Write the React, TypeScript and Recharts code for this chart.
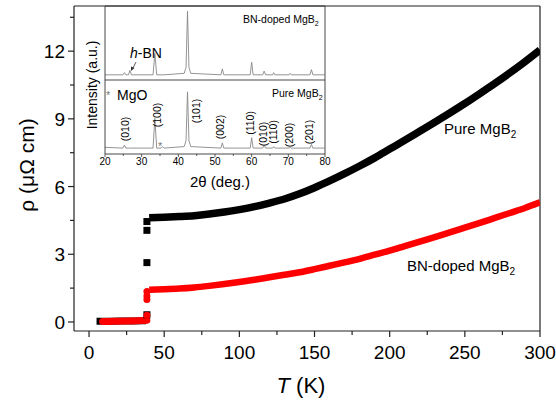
import React from "react";
import { ComposedChart, Line, XAxis, YAxis, ReferenceLine } from "recharts";

// resistivity vs temperature (main panel)
const tempNormal = [40, 50, 60, 70, 80, 90, 100, 110, 120, 130, 140, 150, 160, 170, 180, 190, 200, 210, 220, 230, 240, 250, 260, 270, 280, 290, 300];
const rhoPure = [4.62, 4.64, 4.67, 4.71, 4.78, 4.87, 4.98, 5.11, 5.27, 5.45, 5.68, 5.95, 6.25, 6.57, 6.91, 7.27, 7.66, 8.05, 8.45, 8.85, 9.26, 9.68, 10.12, 10.57, 11.04, 11.53, 12.05];
const rhoBN = [1.43, 1.45, 1.48, 1.53, 1.6, 1.68, 1.77, 1.87, 1.98, 2.09, 2.2, 2.34, 2.49, 2.64, 2.8, 2.98, 3.16, 3.36, 3.56, 3.76, 3.97, 4.18, 4.39, 4.61, 4.83, 5.05, 5.3];

const tempLowPure = [5, 10, 15, 20, 25, 30, 35, 38];
const rhoLowPure = [0.03, 0.03, 0.03, 0.04, 0.04, 0.04, 0.05, 0.05];
const tempLowBN = [9, 12, 16, 20, 24, 28, 32, 36, 38.5];
const rhoLowBN = [0.02, 0.02, 0.03, 0.03, 0.04, 0.04, 0.05, 0.06, 0.08];

const tempTransition = [38.5, 38.5, 38.5, 38.5];
const rhoPureTransition = [0.32, 2.63, 4.06, 4.45];
const rhoBNTransition = [0.3, 1.0, 1.15, 1.35];

const xTicks = [0, 25, 50, 75, 100, 125, 150, 175, 200, 225, 250, 275, 300];
const yTicks = [0, 1.5, 3, 4.5, 6, 7.5, 9, 10.5, 12, 13.5];

// XRD inset
const xrdAngles = [20, 24.9, 25.3, 25.7, 26.4, 26.8, 27.2, 33.1, 33.6, 34.1, 35.3, 35.7, 36.1, 41.6, 42.1, 42.5, 42.9, 43.4, 51.6, 52.0, 52.4, 59.6, 60.0, 60.4, 63.0, 63.4, 63.8, 65.7, 66.0, 66.3, 70.2, 70.5, 70.8, 75.9, 76.3, 76.7, 80];
const pureIntensity = [0.09, 0.08, 0.12, 0.08, 0.08, 0.08, 0.08, 0.08, 0.48, 0.08, 0.08, 0.1, 0.08, 0.1, 0.18, 0.84, 0.18, 0.1, 0.08, 0.15, 0.08, 0.08, 0.22, 0.08, 0.08, 0.12, 0.08, 0.08, 0.1, 0.08, 0.08, 0.09, 0.08, 0.08, 0.13, 0.08, 0.08];
const bnIntensity = [1.07, 1.07, 1.1, 1.07, 1.07, 1.13, 1.07, 1.07, 1.36, 1.07, 1.07, 1.07, 1.07, 1.09, 1.17, 1.93, 1.17, 1.09, 1.07, 1.15, 1.07, 1.07, 1.24, 1.07, 1.07, 1.12, 1.07, 1.07, 1.1, 1.07, 1.07, 1.09, 1.07, 1.07, 1.14, 1.07, 1.07];
const insetTicks = [20, 25, 30, 35, 40, 45, 50, 55, 60, 65, 70, 75, 80];

const hklLabels = ["(010)", "(100)", "(101)", "(002)", "(110)", "(010)", "(110)", "(200)", "(201)"];
const hklPos = [
  [125, 129], [157, 115], [196, 111], [220, 127], [250, 123],
  [263, 134], [273, 132], [289, 135], [309, 132],
];

const FONT = '"Liberation Sans", Arial, sans-serif';

const zip = (xs: number[], ys: number[], kx: string, ky: string) =>
  xs.map((x, i) => ({ [kx]: x, [ky]: ys[i] }));

const pureNormal = zip(tempNormal, rhoPure, "T", "rho");
const bnNormal = zip(tempNormal, rhoBN, "T", "rho");
const pureLow = zip(tempLowPure, rhoLowPure, "T", "rho");
const bnLow = zip(tempLowBN, rhoLowBN, "T", "rho");
const pureTrans = zip(tempTransition, rhoPureTransition, "T", "rho");
const bnTrans = zip(tempTransition, rhoBNTransition, "T", "rho");
const pureXrd = zip(xrdAngles, pureIntensity, "a", "v");
const bnXrd = zip(xrdAngles, bnIntensity, "a", "v");

const MainXTick = (props: any) => {
  const { x, y, payload } = props;
  const major = payload.value % 50 === 0;
  return (
    <g>
      <line x1={x} y1={y} x2={x} y2={y + (major ? 6 : 4)} stroke="#222" strokeWidth={1.2} />
      {major && (
        <text x={x} y={y + 28} textAnchor="middle" fontSize={19} fontFamily={FONT} fill="#000">
          {payload.value}
        </text>
      )}
    </g>
  );
};

const MainYTick = (props: any) => {
  const { x, y, payload } = props;
  const major = payload.value % 3 === 0;
  return (
    <g>
      <line x1={x} y1={y} x2={x - (major ? 6 : 4)} y2={y} stroke="#222" strokeWidth={1.2} />
      {major && (
        <text x={x - 9} y={y + 7} textAnchor="end" fontSize={19} fontFamily={FONT} fill="#000">
          {payload.value}
        </text>
      )}
    </g>
  );
};

const InsetXTick = (props: any) => {
  const { x, y, payload } = props;
  const major = payload.value % 10 === 0;
  return (
    <g>
      <line x1={x} y1={y} x2={x} y2={y + (major ? 3 : 2)} stroke="#333" strokeWidth={0.8} />
      {major && (
        <text x={x} y={y + 11} textAnchor="middle" fontSize={10} fontFamily={FONT} fill="#000">
          {payload.value}
        </text>
      )}
    </g>
  );
};

const square = (color: string) => (p: any) => (
  <rect key={`s-${p.index}`} x={p.cx - 3.5} y={p.cy - 3.5} width={7} height={7} fill={color} />
);
const circle = (color: string) => (p: any) => (
  <circle key={`c-${p.index}`} cx={p.cx} cy={p.cy} r={3.5} fill={color} />
);

export default function App() {
  return (
    <div style={{ position: "absolute", left: 0, top: 0, width: 556, height: 402, background: "#fff" }}>
      <div style={{ position: "absolute", left: 0, top: 0 }}>
        <ComposedChart width={556} height={402} margin={{ top: 6, right: 16, bottom: 0, left: 0 }}>
          <XAxis
            type="number"
            dataKey="T"
            domain={[-10, 300]}
            ticks={xTicks}
            interval={0}
            allowDataOverflow
            height={71}
            tickSize={0}
            tickMargin={0}
            tick={<MainXTick />}
            axisLine={{ stroke: "#222", strokeWidth: 1.2 }}
          />
          <YAxis
            type="number"
            domain={[-0.4, 14]}
            ticks={yTicks}
            interval={0}
            allowDataOverflow
            width={74}
            tickSize={0}
            tickMargin={0}
            tick={<MainYTick />}
            axisLine={{ stroke: "#222", strokeWidth: 1.2 }}
          />
          <ReferenceLine x={300} stroke="#222" strokeWidth={1.2} />
          <ReferenceLine y={14} stroke="#222" strokeWidth={1.2} />
          <Line data={pureLow} dataKey="rho" stroke="#000" strokeWidth={7} dot={false} isAnimationActive={false} />
          <Line data={pureTrans} dataKey="rho" stroke="none" dot={square("#000")} isAnimationActive={false} />
          <Line data={pureNormal} dataKey="rho" type="monotone" stroke="#000" strokeWidth={7.5} dot={false} isAnimationActive={false} />
          <Line data={bnLow} dataKey="rho" stroke="#ff0000" strokeWidth={7} strokeLinecap="round" dot={false} isAnimationActive={false} />
          <Line data={bnTrans} dataKey="rho" stroke="none" dot={circle("#ff0000")} isAnimationActive={false} />
          <Line data={bnNormal} dataKey="rho" type="monotone" stroke="#ff0000" strokeWidth={6.5} dot={false} isAnimationActive={false} />
        </ComposedChart>
      </div>

      <div style={{ position: "absolute", left: 0, top: 0 }}>
        <ComposedChart width={556} height={402} margin={{ top: 6, right: 231, bottom: 0, left: 0 }}>
          <XAxis
            type="number"
            dataKey="a"
            domain={[20, 80]}
            ticks={insetTicks}
            interval={0}
            height={248}
            tickSize={0}
            tickMargin={0}
            tick={<InsetXTick />}
            axisLine={{ stroke: "#333", strokeWidth: 0.9 }}
          />
          <YAxis type="number" domain={[0, 2]} width={105} tick={false} tickLine={false} axisLine={{ stroke: "#333", strokeWidth: 0.9 }} />
          <ReferenceLine y={2} stroke="#333" strokeWidth={0.9} />
          <ReferenceLine y={1} stroke="#333" strokeWidth={0.9} />
          <ReferenceLine x={80} stroke="#333" strokeWidth={0.9} />
          <Line data={pureXrd} dataKey="v" stroke="#888" strokeWidth={0.9} dot={false} isAnimationActive={false} />
          <Line data={bnXrd} dataKey="v" stroke="#888" strokeWidth={0.9} dot={false} isAnimationActive={false} />
        </ComposedChart>
      </div>

      <svg width={556} height={402} style={{ position: "absolute", left: 0, top: 0, pointerEvents: "none" }} fontFamily={FONT}>
        {/* main axis titles */}
        <text transform="translate(34,165) rotate(-90)" textAnchor="middle" fontSize={21} fill="#000">
          ρ (μΩ cm)
        </text>
        <text x={301} y={393} textAnchor="middle" fontSize={22} fill="#000">
          <tspan fontStyle="italic">T</tspan> (K)
        </text>
        {/* series labels */}
        <text x={444} y={134} fontSize={15} fill="#000">
          Pure MgB<tspan fontSize={10} dy={4}>2</tspan>
        </text>
        <text x={407} y={271} fontSize={15} fill="#000">
          BN-doped MgB<tspan fontSize={10} dy={4}>2</tspan>
        </text>
        {/* inset annotations */}
        <text transform="translate(97,85) rotate(-90)" textAnchor="middle" fontSize={14} fill="#000">
          Intensity (a.u.)
        </text>
        <text x={220} y={187} textAnchor="middle" fontSize={15} fill="#000">
          2θ (deg.)
        </text>
        <text x={243} y={23} fontSize={10.5} fill="#000">
          BN-doped MgB<tspan fontSize={7} dy={3}>2</tspan>
        </text>
        <text x={272} y={97} fontSize={10.5} fill="#000">
          Pure MgB<tspan fontSize={7} dy={3}>2</tspan>
        </text>
        <text x={130} y={58} fontSize={14} fill="#000">
          <tspan fontStyle="italic">h</tspan>-BN
        </text>
        <line x1={136} y1={62} x2={132.5} y2={69} stroke="#333" strokeWidth={0.8} />
        <polygon points="131,71 131,66.5 134.5,68" fill="#333" />
        <text x={106} y={99} fontSize={11} fill="#777">*</text>
        <text x={117} y={100} fontSize={14} fill="#000">MgO</text>
        <text x={158} y={150} fontSize={11} fill="#777">*</text>
        {hklLabels.map((s, i) => (
          <text
            key={i}
            transform={`translate(${hklPos[i][0] + 3.5},${hklPos[i][1]}) rotate(-90)`}
            textAnchor="middle"
            fontSize={10.5}
            fill="#000"
          >
            {s}
          </text>
        ))}
      </svg>
    </div>
  );
}
